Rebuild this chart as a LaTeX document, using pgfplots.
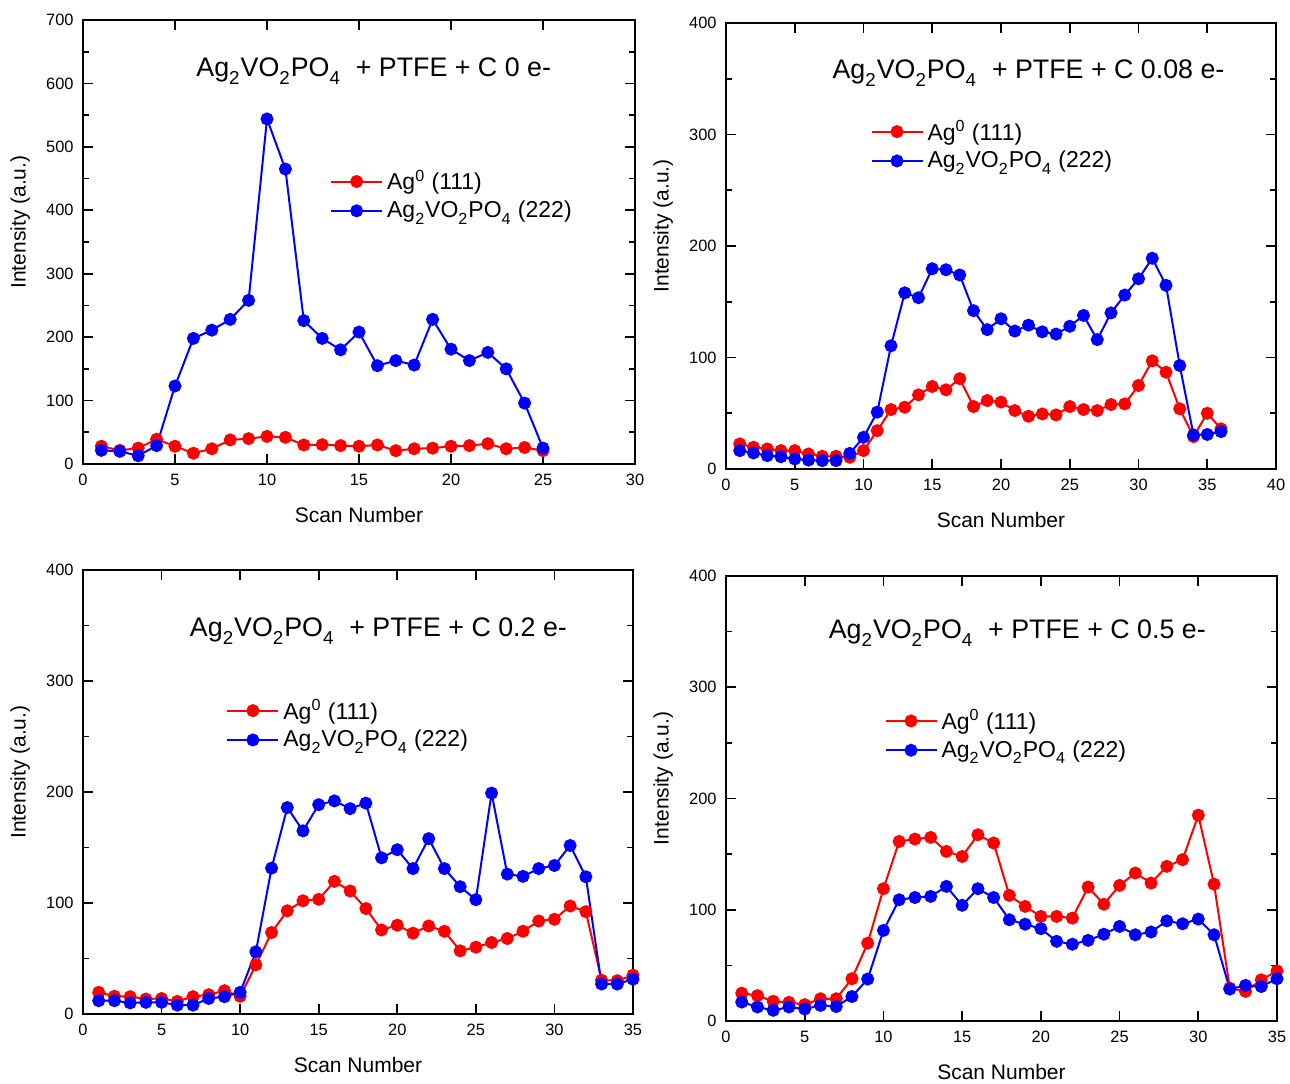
\documentclass[border=0pt]{standalone}
\usepackage{fontspec}
\setmainfont{Liberation Sans}
\usepackage{pgfplots}
\pgfplotsset{compat=1.18}

\definecolor{agred}{RGB}{255,0,0}
\definecolor{agblue}{RGB}{0,0,255}

% subscripts set a little lower than the default
\newcommand{\lsub}[1]{\raisebox{-0.25ex}{\textsubscript{#1}}}
\newcommand{\avpo}{Ag\lsub{2}VO\lsub{2}PO\lsub{4}}

\tikzset{paneltitle/.style={font=\fontsize{13.4}{16}\selectfont}}

\pgfplotsset{
  xrdpanel/.style={
    scale only axis,
    axis line style={line width=0.9pt},
    every tick/.style={black, line width=0.8pt},
    major tick length=5pt, minor tick length=3pt,
    tick align=inside,
    xmin=0, ymin=0,
    minor y tick num=1,
    /pgf/number format/assume math mode=true,
    tick label style={font=\fontsize{8.2}{9.8}\selectfont},
    xticklabel style={yshift=-1.5pt},
    yticklabel style={xshift=-1.2pt},
    label style={font=\fontsize{10.5}{12.6}\selectfont},
    xlabel={Scan Number}, ylabel={Intensity (a.u.)},
    xlabel style={at={(axis description cs:0.5,-0.115)}, anchor=center},
    ylabel style={at={(axis description cs:-0.114,0.545)}, anchor=center},
    legend cell align=left,
    legend style={draw=none, fill=none, inner sep=0pt, anchor=north west,
      font=\fontsize{11.5}{14}\selectfont, row sep=0pt},
    legend image code/.code={\draw[mark repeat=2,mark phase=2,##1]
      plot coordinates {(0pt,0pt) (12.75pt,0pt) (25.5pt,0pt)};},
  },
  agser/.style={color=agred, line width=1pt, mark=*, mark size=2.75pt,
    mark options={solid, fill=agred}},
  avser/.style={color=agblue, line width=1pt, mark=*, mark size=2.75pt,
    mark options={solid, fill=agblue}},
}

\begin{document}
\begin{tikzpicture}
\useasboundingbox (0pt,0pt) rectangle (645pt,541.5pt);

% ---------- 0 e- ----------
\begin{axis}[xrdpanel, at={(41.5pt,309.5pt)}, anchor=south west,
  width=276pt, height=222pt, xmax=30, ymax=700,
  xtick={0,5,...,30}, ytick={0,100,...,700},
  legend style={at={(0.447,0.672)}}]
\addplot[agser] coordinates {
 (1,28) (2,21.5) (3,25) (4,39) (5,28) (6,17) (7,24) (8,38) (9,40) (10,43.5)
 (11,42) (12,30) (13,30.5) (14,29) (15,28) (16,30) (17,21) (18,24) (19,25)
 (20,28) (21,29) (22,32) (23,24) (24,26) (25,21)};
\addlegendentry{Ag\textsuperscript{0} (111)}
\addplot[avser] coordinates {
 (1,21.5) (2,20) (3,13) (4,29) (5,123) (6,198) (7,211) (8,228) (9,258) (10,544)
 (11,465) (12,226) (13,198) (14,180) (15,208) (16,155) (17,163) (18,156)
 (19,228) (20,181) (21,163) (22,176) (23,150) (24,96) (25,25)};
\addlegendentry{\avpo{} (222)}
\node[paneltitle] at (axis cs:15.8,619) {\avpo\ \ + PTFE + C 0 e-};
\end{axis}

% ---------- 0.08 e- ----------
\begin{axis}[xrdpanel, at={(363pt,307pt)}, anchor=south west,
  width=275pt, height=223pt, xmax=40, ymax=400,
  xtick={0,5,...,40}, ytick={0,100,...,400},
  legend style={at={(0.262,0.792)}}]
\addplot[agser] coordinates {
 (1,22.5) (2,19.5) (3,18) (4,16.5) (5,16.5) (6,13.5) (7,11.4) (8,11.4) (9,10.5)
 (10,16.5) (11,34.4) (12,53.3) (13,55.4) (14,66.5) (15,74) (16,71) (17,81)
 (18,56) (19,61.4) (20,60) (21,52.4) (22,47.3) (23,49.4) (24,48.5) (25,56)
 (26,53.3) (27,52.4) (28,57.8) (29,58.4) (30,74.9) (31,97) (32,86.8) (33,54)
 (34,29) (35,50) (36,36)};
\addlegendentry{Ag\textsuperscript{0} (111)}
\addplot[avser] coordinates {
 (1,16.5) (2,14.4) (3,12) (4,11) (5,9) (6,8) (7,7.5) (8,7.5) (9,14) (10,28.4)
 (11,51) (12,110.5) (13,158) (14,153.6) (15,179.6) (16,178.7) (17,174)
 (18,142) (19,125) (20,134.7) (21,123.7) (22,129) (23,123) (24,121) (25,128)
 (26,137.7) (27,116) (28,140) (29,156) (30,170.6) (31,189) (32,164.7)
 (33,92.8) (34,30.5) (35,31) (36,33.5)};
\addlegendentry{\avpo{} (222)}
\node[paneltitle] at (axis cs:22,355) {\avpo\ \ + PTFE + C 0.08 e-};
\end{axis}

% ---------- 0.2 e- ----------
\begin{axis}[xrdpanel, at={(41.5pt,34.5pt)}, anchor=south west,
  width=275pt, height=222pt, xmax=35, ymax=400,
  xtick={0,5,...,35}, ytick={0,100,...,400},
  legend style={at={(0.26,0.719)}}]
\addplot[agser] coordinates {
 (1,19.5) (2,16) (3,15.6) (4,13.5) (5,14) (6,11.4) (7,15.6) (8,17.4) (9,21)
 (10,16) (11,44.3) (12,73.4) (13,93) (14,102) (15,103.3) (16,119.5) (17,110.8)
 (18,95) (19,75.7) (20,80) (21,72.8) (22,79.3) (23,74.5) (24,56.9) (25,60.2)
 (26,64.4) (27,68) (28,74.5) (29,83.8) (30,85.3) (31,97.3) (32,92.2)
 (33,30.5) (34,30) (35,35)};
\addlegendentry{Ag\textsuperscript{0} (111)}
\addplot[avser] coordinates {
 (1,12) (2,12) (3,10) (4,10.5) (5,10.5) (6,8) (7,8) (8,14) (9,15.6) (10,19.5)
 (11,56) (12,131.4) (13,186) (14,165) (15,188.6) (16,192) (17,185) (18,190)
 (19,140.7) (20,148) (21,131) (22,158) (23,131) (24,114.7) (25,103) (26,199)
 (27,126) (28,124) (29,131) (30,133.8) (31,151.8) (32,123.6) (33,27) (34,27)
 (35,31.4)};
\addlegendentry{\avpo{} (222)}
\node[paneltitle] at (axis cs:18.8,345) {\avpo\ \ + PTFE + C 0.2 e-};
\end{axis}

% ---------- 0.5 e- ----------
\begin{axis}[xrdpanel, at={(363pt,31pt)}, anchor=south west,
  width=275.5pt, height=222.5pt, xmax=35, ymax=400,
  xtick={0,5,...,35}, ytick={0,100,...,400},
  legend style={at={(0.287,0.71)}}]
\addplot[agser] coordinates {
 (1,25) (2,22.8) (3,17.7) (4,16.8) (5,14.7) (6,20) (7,20) (8,38) (9,70)
 (10,118.9) (11,161.4) (12,163.5) (13,165) (14,152.4) (15,147.9) (16,167.4)
 (17,160) (18,112.9) (19,103) (20,94) (21,94) (22,92.5) (23,120.4) (24,105)
 (25,121.9) (26,133) (27,124) (28,139) (29,145) (30,185) (31,123) (32,29.6)
 (33,26.6) (34,37) (35,45)};
\addlegendentry{Ag\textsuperscript{0} (111)}
\addplot[avser] coordinates {
 (1,17) (2,12.6) (3,9.6) (4,12.6) (5,10.8) (6,14) (7,13) (8,22) (9,37.7)
 (10,81.4) (11,109) (12,111) (13,112) (14,121) (15,104) (16,118.9) (17,111)
 (18,91) (19,87) (20,83) (21,71.6) (22,69) (23,72.5) (24,78) (25,85)
 (26,77.5) (27,80) (28,90) (29,87.4) (30,91.6) (31,77.5) (32,28.7) (33,32)
 (34,31) (35,38)};
\addlegendentry{\avpo{} (222)}
\node[paneltitle] at (axis cs:18.5,349) {\avpo\ \ + PTFE + C 0.5 e-};
\end{axis}
\end{tikzpicture}
\end{document}
